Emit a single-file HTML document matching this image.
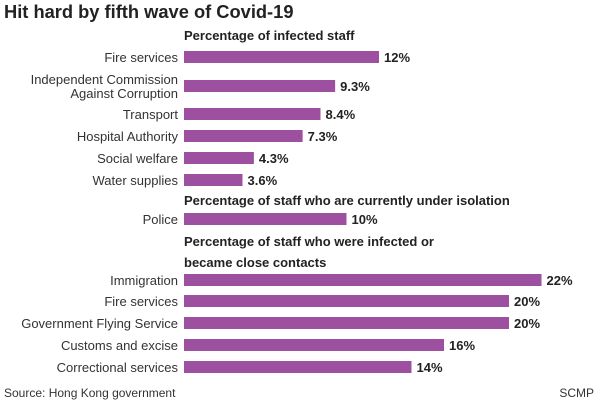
<!DOCTYPE html>
<html><head><meta charset="utf-8">
<style>
body{margin:0;background:#fff;font-family:"Liberation Sans",sans-serif;}
#c{position:relative;width:600px;height:402px;overflow:hidden;}
svg text{font-family:"Liberation Sans",sans-serif;}
</style></head>
<body>
<div id="c">
<svg id="s" width="600" height="402">
<text x="4" y="18" font-size="18.3" font-weight="bold" fill="#222">Hit hard by fifth wave of Covid-19</text>
<text x="184" y="40" font-size="13" font-weight="bold" fill="#222">Percentage of infected staff</text>
<text x="184" y="205" font-size="13" font-weight="bold" fill="#222">Percentage of staff who are currently under isolation</text>
<text x="184" y="246" font-size="13" font-weight="bold" fill="#222">Percentage of staff who were infected or</text>
<text x="184" y="267" font-size="13" font-weight="bold" fill="#222">became close contacts</text>
<text x="4" y="397" font-size="12" fill="#333">Source: Hong Kong government</text>
<text x="594" y="397" font-size="12" fill="#333" text-anchor="end">SCMP</text>
<g id="bars"></g>
</svg>
</div>
<script>
const categories=[["Fire services"],["Independent Commission","Against Corruption"],["Transport"],["Hospital Authority"],["Social welfare"],["Water supplies"],["Police"],["Immigration"],["Fire services"],["Government Flying Service"],["Customs and excise"],["Correctional services"]];
const values=[12,9.3,8.4,7.3,4.3,3.6,10,22,20,20,16,14];
const valueLabels=["12%","9.3%","8.4%","7.3%","4.3%","3.6%","10%","22%","20%","20%","16%","14%"];
const rowCenters=[57,86,114,136,158,180,219,280,301,323,345,367];
const x0=184,pxPer=16.25;
function xScale(v){return x0+v*pxPer;}
const g=document.getElementById('bars');
const NS="http://www.w3.org/2000/svg";
values.forEach((v,i)=>{
  const cy=rowCenters[i];
  const r=document.createElementNS(NS,'rect');
  r.setAttribute('x',x0);r.setAttribute('y',cy-6);
  r.setAttribute('width',xScale(v)-x0);r.setAttribute('height',12);
  r.setAttribute('fill','#9c509f');
  
  
  g.appendChild(r);
  const t=document.createElementNS(NS,'text');
  t.setAttribute('x',xScale(v)+5);t.setAttribute('y',cy+5);
  t.setAttribute('font-size','13');t.setAttribute('font-weight','bold');t.setAttribute('fill','#222');
  t.textContent=valueLabels[i];
  
  
  g.appendChild(t);
  const lines=categories[i];
  lines.forEach((ln,j)=>{
    const l=document.createElementNS(NS,'text');
    const y=cy+5+(j-(lines.length-1)/2)*14;
    l.setAttribute('x',178);l.setAttribute('y',y);
    l.setAttribute('font-size','13');l.setAttribute('fill','#333');l.setAttribute('text-anchor','end');
    l.textContent=ln;
    
    
    g.appendChild(l);
  });
});
</script>
</body></html>
